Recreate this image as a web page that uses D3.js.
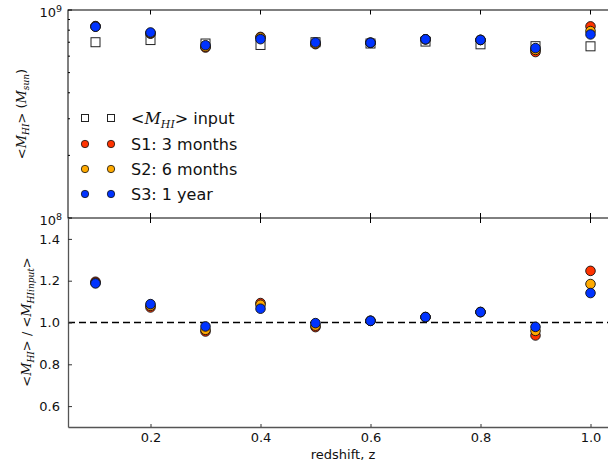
<!DOCTYPE html>
<html>
<head>
<meta charset="utf-8">
<script src="https://cdn.jsdelivr.net/npm/d3@7"></script>
<style>
  body { margin: 0; background: #fff; }
  text { font-family: "DejaVu Sans", sans-serif; }
  .math { font-family: "DejaVu Serif", serif; font-style: italic; }
</style>
</head>
<body>
<svg id="chart" width="608" height="469"></svg>
<script>
// redshift bins
const redshift = [0.1, 0.2, 0.3, 0.4, 0.5, 0.6, 0.7, 0.8, 0.9, 1.0];

// top panel: mean HI mass (solar masses)
const inputMass = [7.00e8, 7.17e8, 6.90e8, 6.79e8, 7.00e8, 6.90e8, 7.05e8, 6.84e8, 6.70e8, 6.69e8];
const s1Mass = [8.37e8, 7.69e8, 6.60e8, 7.42e8, 6.85e8, 6.96e8, 7.23e8, 7.18e8, 6.28e8, 8.34e8];
const s2Mass = [8.33e8, 7.74e8, 6.66e8, 7.37e8, 6.90e8, 6.96e8, 7.23e8, 7.18e8, 6.43e8, 7.92e8];
const s3Mass = [8.31e8, 7.80e8, 6.77e8, 7.24e8, 6.98e8, 6.96e8, 7.23e8, 7.18e8, 6.56e8, 7.63e8];

// bottom panel: ratio to input
const s1Ratio = [1.195, 1.072, 0.957, 1.093, 0.978, 1.008, 1.026, 1.050, 0.938, 1.247];
const s2Ratio = [1.190, 1.080, 0.965, 1.085, 0.985, 1.008, 1.026, 1.050, 0.960, 1.184];
const s3Ratio = [1.187, 1.088, 0.981, 1.066, 0.997, 1.008, 1.026, 1.050, 0.979, 1.141];

const xTicks = [0.2, 0.4, 0.6, 0.8, 1.0];
const ratioTicks = [0.6, 0.8, 1.0, 1.2, 1.4];

const series = [
  { name: 'S1: 3 months', color: '#ff3300', mass: s1Mass, ratio: s1Ratio },
  { name: 'S2: 6 months', color: '#ffaa00', mass: s2Mass, ratio: s2Ratio },
  { name: 'S3: 1 year',   color: '#0033ff', mass: s3Mass, ratio: s3Ratio }
];

const svg = d3.select('#chart');

const x = d3.scaleLinear().domain([0.05, 1.05]).range([68, 618]);
const yTop = d3.scaleLog().domain([1e8, 1e9]).range([218, 10]);
const yBot = d3.scaleLinear().domain([0.5, 1.5]).range([427, 218]);

// ---------- top panel ----------
const topPanel = svg.append('g');

// major + minor ticks on left/right
yTop.ticks().forEach(v => {
  const major = Math.abs(Math.log10(v) - Math.round(Math.log10(v))) < 1e-9;
  const len = major ? 4 : 2;
  topPanel.append('line').attr('x1', 68).attr('x2', 68 + len)
    .attr('y1', yTop(v)).attr('y2', yTop(v)).attr('stroke', '#000');
  topPanel.append('line').attr('x1', 618).attr('x2', 618 - len)
    .attr('y1', yTop(v)).attr('y2', yTop(v)).attr('stroke', '#000');
  if (major) {
    const t = topPanel.append('text')
      .attr('x', 62).attr('y', yTop(v) + 7)
      .attr('text-anchor', 'end').attr('font-size', 13).attr('fill', '#111');
    t.append('tspan').text('10');
    t.append('tspan').attr('dy', -5).attr('font-size', 9.5).text(Math.round(Math.log10(v)));
  }
});

// x ticks top and bottom (inward)
xTicks.forEach(v => {
  topPanel.append('line').attr('x1', x(v)).attr('x2', x(v))
    .attr('y1', 10).attr('y2', 14.5).attr('stroke', '#000');
  topPanel.append('line').attr('x1', x(v)).attr('x2', x(v))
    .attr('y1', 213).attr('y2', 223).attr('stroke', '#000');
});

topPanel.append('rect')
  .attr('x', 68).attr('y', 10).attr('width', 550).attr('height', 208)
  .attr('fill', 'none').attr('stroke', '#000').attr('stroke-width', 1);

// squares
topPanel.append('g').selectAll('rect')
  .data(redshift.map((z, i) => [z, inputMass[i]]))
  .join('rect')
  .attr('x', d => x(d[0]) - 4.5)
  .attr('y', d => yTop(d[1]) - 4.5)
  .attr('width', 9).attr('height', 9)
  .attr('fill', '#fff').attr('stroke', '#222').attr('stroke-width', 1);

series.forEach(s => {
  topPanel.append('g').selectAll('circle')
    .data(redshift.map((z, i) => [z, s.mass[i]]))
    .join('circle')
    .attr('cx', d => x(d[0])).attr('cy', d => yTop(d[1]))
    .attr('r', 4.8)
    .attr('fill', s.color).attr('stroke', '#111').attr('stroke-width', 0.9);
});

// legend
const legend = topPanel.append('g');
const rowY = [118, 144, 169, 194];
[85, 111].forEach(mx => {
  legend.append('rect').attr('x', mx - 3.5).attr('y', rowY[0] - 3.5)
    .attr('width', 7).attr('height', 7)
    .attr('fill', '#fff').attr('stroke', '#222').attr('stroke-width', 1);
  series.forEach((s, i) => {
    legend.append('circle').attr('cx', mx).attr('cy', rowY[i + 1]).attr('r', 3.7)
      .attr('fill', s.color).attr('stroke', '#111').attr('stroke-width', 0.8);
  });
});
const l0 = legend.append('text').attr('x', 131).attr('y', rowY[0] + 6)
  .attr('font-size', 16).attr('fill', '#111');
l0.append('tspan').text('<');
l0.append('tspan').attr('class', 'math').text('M');
l0.append('tspan').attr('class', 'math').attr('font-size', 11).attr('dy', 4).text('HI');
l0.append('tspan').attr('dy', -4).text('> input');
series.forEach((s, i) => {
  legend.append('text').attr('x', 131).attr('y', rowY[i + 1] + 6)
    .attr('font-size', 16).attr('fill', '#111').text(s.name);
});

// top y label
const ly1 = svg.append('text')
  .attr('transform', 'translate(26,114) rotate(-90)')
  .attr('text-anchor', 'middle').attr('font-size', 13).attr('fill', '#111');
ly1.append('tspan').text('<');
ly1.append('tspan').attr('class', 'math').text('M');
ly1.append('tspan').attr('class', 'math').attr('font-size', 9).attr('dy', 3).text('HI');
ly1.append('tspan').attr('dy', -3).text('> (');
ly1.append('tspan').attr('class', 'math').text('M');
ly1.append('tspan').attr('class', 'math').attr('font-size', 9).attr('dy', 3).text('sun');
ly1.append('tspan').attr('dy', -3).text(')');

// ---------- bottom panel ----------
const botPanel = svg.append('g');

botPanel.append('line')
  .attr('x1', 68).attr('x2', 618)
  .attr('y1', yBot(1)).attr('y2', yBot(1))
  .attr('stroke', '#000').attr('stroke-width', 1.3)
  .attr('stroke-dasharray', '7,4');

const axB = botPanel.append('g').attr('transform', 'translate(0,427)')
  .call(d3.axisBottom(x).tickValues(xTicks).tickSizeInner(-3).tickSizeOuter(0)
    .tickPadding(6).tickFormat(d3.format('.1f')));
const axL = botPanel.append('g').attr('transform', 'translate(68,0)')
  .call(d3.axisLeft(yBot).tickValues(ratioTicks).tickSizeInner(-4).tickSizeOuter(0)
    .tickPadding(8).tickFormat(d3.format('.1f')));
[axB, axL].forEach(a => {
  a.select('.domain').attr('stroke', '#555').attr('stroke-width', 1.3);
  a.selectAll('.tick line').attr('stroke', '#333');
  a.selectAll('.tick text').attr('font-size', 13).attr('fill', '#111')
    .attr('font-family', '"DejaVu Sans", sans-serif');
});

series.forEach(s => {
  botPanel.append('g').selectAll('circle')
    .data(redshift.map((z, i) => [z, s.ratio[i]]))
    .join('circle')
    .attr('cx', d => x(d[0])).attr('cy', d => yBot(d[1]))
    .attr('r', 4.8)
    .attr('fill', s.color).attr('stroke', '#111').attr('stroke-width', 0.9);
});

// labels
svg.append('text').attr('x', 343).attr('y', 459)
  .attr('text-anchor', 'middle').attr('font-size', 13).attr('fill', '#111')
  .text('redshift, z');

const ly2 = svg.append('text')
  .attr('transform', 'translate(31,322) rotate(-90)')
  .attr('text-anchor', 'middle').attr('font-size', 13).attr('fill', '#111');
ly2.append('tspan').text('<');
ly2.append('tspan').attr('class', 'math').text('M');
ly2.append('tspan').attr('class', 'math').attr('font-size', 9).attr('dy', 3).text('HI');
ly2.append('tspan').attr('dy', -3).text('> / <');
ly2.append('tspan').attr('class', 'math').text('M');
ly2.append('tspan').attr('class', 'math').attr('font-size', 9).attr('dy', 3).text('HIinput');
ly2.append('tspan').attr('dy', -3).text('>');
</script>
</body>
</html>
